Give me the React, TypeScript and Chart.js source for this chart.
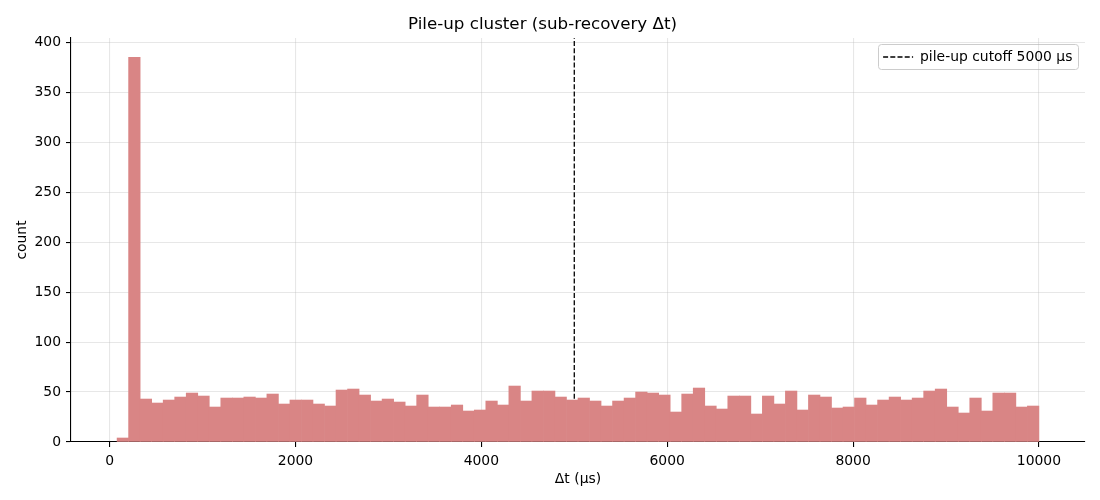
import React, { useEffect, useRef } from 'react';
import { Chart, registerables } from 'chart.js';

Chart.register(...registerables);

// histogram bins: 80 bins of width 124 from 80 to 10000 µs
const BIN_START = 80;
const BIN_WIDTH = 124;
const counts = [
  4, 385, 43, 39, 42, 45, 49, 46, 35, 44,
  44, 45, 44, 48, 38, 42, 42, 38, 36, 52,
  53, 47, 41, 43, 40, 36, 47, 35, 35, 37,
  31, 32, 41, 37, 56, 41, 51, 51, 45, 42,
  44, 41, 36, 41, 44, 50, 49, 47, 30, 48,
  54, 36, 33, 46, 46, 28, 46, 38, 51, 32,
  47, 45, 34, 35, 44, 37, 42, 45, 42, 44,
  51, 53, 35, 29, 44, 31, 49, 49, 35, 36,
];
const CUTOFF = 5000;
const X_MIN = -416;
const X_MAX = 10496;
const Y_MAX = 404.25;
const xTicks = [0, 2000, 4000, 6000, 8000, 10000];
const yTicks = [0, 50, 100, 150, 200, 250, 300, 350, 400];

const FONT = 'DejaVu Sans';
const LEGEND_PAD = 12;
const FRAME_PAD = 5.6;

// move the chartArea legend to the upper right corner, and draw its frame
const legendFrame = {
  id: 'legendFrame',
  afterLayout(chart: any) {
    const lg = chart.legend;
    if (!lg || !lg.legendHitBoxes || !lg.legendHitBoxes.length) return;
    const hb = lg.legendHitBoxes[0];
    const ca = chart.chartArea;
    lg.left = ca.right - 7 - FRAME_PAD - hb.width - LEGEND_PAD;
    lg.right = ca.right;
    lg.top = ca.top;
  },
  beforeDraw(chart: any) {
    const lg = chart.legend;
    if (!lg || !lg.legendHitBoxes || !lg.legendHitBoxes.length) return;
    const hb = lg.legendHitBoxes[0];
    const x = hb.left - FRAME_PAD;
    const y = hb.top - FRAME_PAD;
    const w = hb.width + FRAME_PAD * 2;
    const h = hb.height + FRAME_PAD * 2;
    const ctx = chart.ctx;
    ctx.save();
    ctx.beginPath();
    ctx.roundRect(Math.round(x) + 0.5, Math.round(y) + 0.5, Math.round(w), Math.round(h), 3);
    ctx.fillStyle = 'rgba(255,255,255,0.8)';
    ctx.fill();
    ctx.strokeStyle = '#cccccc';
    ctx.lineWidth = 1;
    ctx.stroke();
    ctx.restore();
  },
};

export default function App() {
  const ref = useRef<HTMLCanvasElement>(null);

  useEffect(() => {
    if (!ref.current) return;
    Chart.defaults.font.family = FONT;
    Chart.defaults.color = '#000';

    const bars = counts.map((c, i) => ({ x: BIN_START + BIN_WIDTH * (i + 0.5), y: c }));

    const chart = new Chart(ref.current, {
      type: 'bar',
      data: {
        datasets: [
          {
            type: 'bar',
            label: 'counts',
            data: bars,
            backgroundColor: '#d98585',
            borderWidth: 0,
            barPercentage: 1,
            categoryPercentage: 1,
          } as any,
          {
            type: 'line',
            label: `pile-up cutoff ${CUTOFF} µs`,
            data: [
              { x: CUTOFF, y: 0 },
              { x: CUTOFF, y: Y_MAX },
            ],
            borderColor: '#000',
            borderWidth: 1.3,
            borderDash: [5, 2.2],
            pointRadius: 0,
            fill: false,
          } as any,
        ],
      },
      options: {
        animation: false,
        responsive: true,
        maintainAspectRatio: false,
        layout: { padding: { left: 0, right: 15, top: 0, bottom: 0 } },
        plugins: {
          title: {
            display: true,
            text: 'Pile-up cluster (sub-recovery Δt)',
            font: { family: FONT, size: 16.7, weight: 'normal' },
            color: '#000',
            padding: { top: 15, bottom: 3 },
          },
          legend: {
            position: 'chartArea' as any,
            align: 'start',
            labels: {
              generateLabels: (c: any) =>
                (Chart.defaults.plugins.legend.labels.generateLabels as any)(c)
                  .filter((l: any) => l.datasetIndex === 1)
                  .map((l: any) => ({
                    ...l,
                    lineDash: [5, 2.2],
                    lineWidth: 1.3,
                    strokeStyle: '#000',
                    fillStyle: '#000',
                  })),
              usePointStyle: true,
              pointStyle: 'line',
              pointStyleWidth: 30,
              padding: LEGEND_PAD,
              color: '#000',
              font: { family: FONT, size: 13.9 },
            },
          },
          tooltip: { enabled: false },
        },
        scales: {
          x: {
            type: 'linear',
            min: X_MIN,
            max: X_MAX,
            offset: false,
            z: 1,
            grid: {
              offset: false,
              color: 'rgba(176,176,176,0.3)',
              lineWidth: 1.1,
              tickColor: '#000',
              tickLength: 5,
            },
            border: { display: true, color: '#000', width: 1.1 },
            ticks: {
              maxRotation: 0,
              autoSkip: false,
              padding: 6,
              color: '#000',
              font: { family: FONT, size: 13.9 },
              callback: (v: any) => String(v),
            },
            afterBuildTicks: (s: any) => {
              s.ticks = xTicks.map((v) => ({ value: v }));
            },
            title: {
              display: true,
              text: 'Δt (µs)',
              color: '#000',
              font: { family: FONT, size: 13.9 },
              padding: { top: 0, bottom: 12 },
            },
            afterFit: (s: any) => {
              s.height = 58;
            },
          },
          y: {
            type: 'linear',
            min: 0,
            max: Y_MAX,
            z: 1,
            grid: {
              color: 'rgba(176,176,176,0.3)',
              lineWidth: 1.1,
              tickColor: '#000',
              tickLength: 5,
            },
            border: { display: true, color: '#000', width: 1.1 },
            ticks: {
              autoSkip: false,
              padding: 5,
              color: '#000',
              font: { family: FONT, size: 13.9 },
              callback: (v: any) => String(v),
            },
            afterBuildTicks: (s: any) => {
              s.ticks = yTicks.map((v) => ({ value: v }));
            },
            title: {
              display: true,
              text: 'count',
              color: '#000',
              font: { family: FONT, size: 13.9 },
              padding: { top: 14, bottom: 0 },
            },
            afterFit: (s: any) => {
              s.width = 71;
            },
          },
        },
      },
      plugins: [legendFrame],
    });
    return () => {
      chart.destroy();
    };
  }, []);

  return (
    <div style={{ position: 'fixed', left: 0, top: 0, width: 1100, height: 500, background: '#fff' }}>
      <canvas ref={ref} />
    </div>
  );
}
